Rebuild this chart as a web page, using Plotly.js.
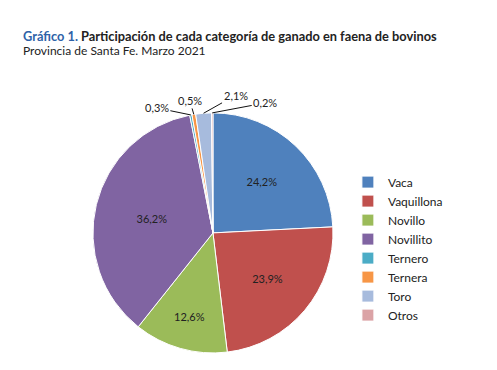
<!DOCTYPE html>
<html><head><meta charset="utf-8">
<script src="https://cdn.plot.ly/plotly-3.0.1.min.js"></script>
<style>body{margin:0;background:#fff}#c{width:497px;height:370px}</style>
</head><body><div id="c"></div>
<script>
const categories = ["Vaca","Vaquillona","Novillo","Novillito","Ternero","Ternera","Toro","Otros"];
const values = [24.2, 23.9, 12.6, 36.2, 0.3, 0.5, 2.1, 0.2];
const colors = ["#4f81bd","#c0504d","#9bbb59","#8064a2","#4bacc6","#f79646","#a7bbdd","#dba3a6"];
// small slices get an outside callout label
const isSmall = [false,false,false,false,true,true,true,true];
// callout text offsets (pixels) for the small slices
const calloutOffsets = {Ternero: [-34,-7], Ternera: [-4,-14], Toro: [32,-18], Otros: [53,-10]};

const W = 497, H = 370;
const dom = {x: [0.187, 0.670], y: [0.046, 0.695]};

const trace = {
  type: "pie",
  labels: categories,
  values: values,
  sort: false,
  direction: "clockwise",
  rotation: 0,
  marker: {colors: colors, line: {color: "#ffffff", width: 1}},
  texttemplate: isSmall.map(s => s ? "" : "%{percent:.1%}"),
  textposition: "inside",
  insidetextorientation: "horizontal",
  textfont: {family: "Lato, 'Open Sans', sans-serif", size: 11, color: "#222"},
  hoverinfo: "label+percent",
  domain: dom,
  automargin: false
};

// callouts: point to the outer edge of each small slice
const total = values.reduce((a,b)=>a+b,0);
const cx = (dom.x[0]+dom.x[1])/2*W, cy = (1-(dom.y[0]+dom.y[1])/2)*H;
const r = Math.min((dom.x[1]-dom.x[0])*W, (dom.y[1]-dom.y[0])*H)/2;
const annotations = [];
let cum = 0;
values.forEach((v,i) => {
  const mid = (cum + v/2)/total*2*Math.PI;
  cum += v;
  if (!isSmall[i]) return;
  const px = cx + r*Math.sin(mid), py = cy - r*Math.cos(mid);
  const off = calloutOffsets[categories[i]];
  annotations.push({
    xref: "paper", yref: "paper", x: px/W, y: 1-py/H,
    ax: off[0], ay: off[1], showarrow: true, arrowhead: 0, arrowwidth: 1, arrowcolor: "#111",
    standoff: 0,
    text: v.toFixed(1).replace(".", ",") + "%",
    font: {family: "Lato, 'Open Sans', sans-serif", size: 11, color: "#222"}
  });
});

annotations.push(
  {xref: "paper", yref: "paper", x: 0.044, y: 1-35.5/H, xanchor: "left", yanchor: "middle", showarrow: false,
   borderpad: 0,
   text: "<b><span style='color:#2e62a8'>Gráfico 1.</span> Participación de cada categoría de ganado en faena de bovinos</b>",
   font: {family: "Lato, 'Open Sans', sans-serif", size: 12.8, color: "#222"}},
  {xref: "paper", yref: "paper", x: 0.044, y: 1-50.5/H, xanchor: "left", yanchor: "middle", showarrow: false,
   borderpad: 0,
   text: "Provincia de Santa Fe. Marzo 2021",
   font: {family: "Lato, 'Open Sans', sans-serif", size: 12, color: "#222"}}
);

const layout = {
  width: W, height: H,
  margin: {l: 0, r: 0, t: 0, b: 0},
  separators: ",.",
  paper_bgcolor: "#fff",
  font: {family: "Lato, 'Open Sans', sans-serif", color: "#222"},
  showlegend: true,
  legend: {x: 0.700, y: 0.547, xanchor: "left", yanchor: "top",
           font: {size: 12, color: "#222"}, itemwidth: 30, traceorder: "normal"},
  annotations: annotations
};

Plotly.newPlot("c", [trace], layout, {staticPlot: true});
</script></body></html>
